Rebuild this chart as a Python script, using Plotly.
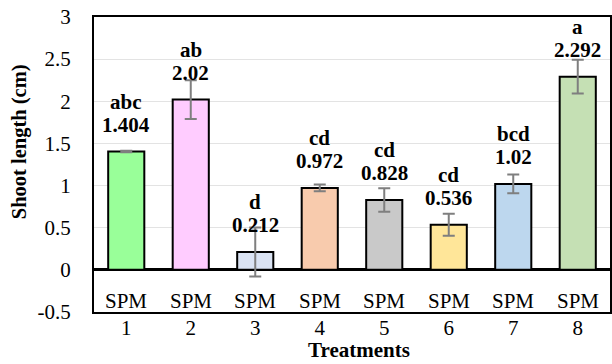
import plotly.graph_objects as go

treatments = ["1", "2", "3", "4", "5", "6", "7", "8"]
group_label = "SPM"
values = [1.404, 2.02, 0.212, 0.972, 0.828, 0.536, 1.02, 2.292]
errors = [0.01, 0.23, 0.29, 0.04, 0.14, 0.13, 0.11, 0.20]
letters = ["abc", "ab", "d", "cd", "cd", "cd", "bcd", "a"]
colors = ["#99FF99", "#FFCCFF", "#DAE3F3", "#F8CBAD", "#C9C9C9", "#FFE699", "#BDD7EE", "#C5E0B4"]
y_ticks = [-0.5, 0, 0.5, 1, 1.5, 2, 2.5, 3]
x_title = "Treatments"
y_title = "Shoot length (cm)"

FONT = "Times New Roman, Liberation Serif, serif"

fig = go.Figure()
fig.add_trace(go.Bar(
    x=treatments, y=values, width=0.56,
    marker=dict(color=colors, line=dict(color="black", width=2)),
    error_y=dict(type="data", array=errors, visible=True, color="#7f7f7f", thickness=2, width=6),
    hoverinfo="skip",
))

annotations = []
for i, (v, l) in enumerate(zip(values, letters)):
    annotations.append(dict(
        x=i, y=v, xref="x", yref="y", text=f"<b>{v}</b>", showarrow=False,
        yanchor="bottom", yshift=13, font=dict(family=FONT, size=21, color="black"),
    ))
    annotations.append(dict(
        x=i, y=v, xref="x", yref="y", text=f"<b>{l}</b>", showarrow=False,
        yanchor="bottom", yshift=36, font=dict(family=FONT, size=21, color="black"),
    ))
    annotations.append(dict(
        x=i, y=-0.5, xref="x", yref="y", text=group_label, showarrow=False,
        yanchor="bottom", yshift=-3, font=dict(family=FONT, size=21, color="black"),
    ))

annotations.append(dict(
    x=0.514, y=-0.129, xref="paper", yref="paper", text=f"<b>{x_title}</b>", showarrow=False,
    xanchor="center", yanchor="middle", font=dict(family=FONT, size=21, color="black"),
))
annotations.append(dict(
    x=-0.145, y=0.576, xref="paper", yref="paper", text=f"<b>{y_title}</b>", showarrow=False,
    textangle=-90, xanchor="center", yanchor="middle", font=dict(family=FONT, size=20.5, color="black"),
))

fig.update_layout(
    width=612, height=364,
    margin=dict(l=94, r=2, t=17, b=52),
    plot_bgcolor="white", paper_bgcolor="white",
    showlegend=False,
    font=dict(family=FONT, size=21, color="black"),
    annotations=annotations,
    xaxis=dict(
        type="category", showline=True, mirror=True, linecolor="black", linewidth=2,
        ticks="", showgrid=False, tickfont=dict(family=FONT, size=21), ticklabelstandoff=-4,
        automargin=False,
    ),
    yaxis=dict(
        range=[-0.5, 3], tickvals=y_ticks, ticktext=[str(v) for v in y_ticks],
        showline=True, mirror=True, linecolor="black", linewidth=2,
        showgrid=True, gridcolor="#e3e3e3", gridwidth=1,
        zeroline=True, zerolinecolor="black", zerolinewidth=3,
        ticks="", ticklabelstandoff=17, tickfont=dict(family=FONT, size=21),
        automargin=False,
    ),
)

fig.write_html("out.html", config={"displayModeBar": False},
               post_script="document.body.style.margin='0';")
